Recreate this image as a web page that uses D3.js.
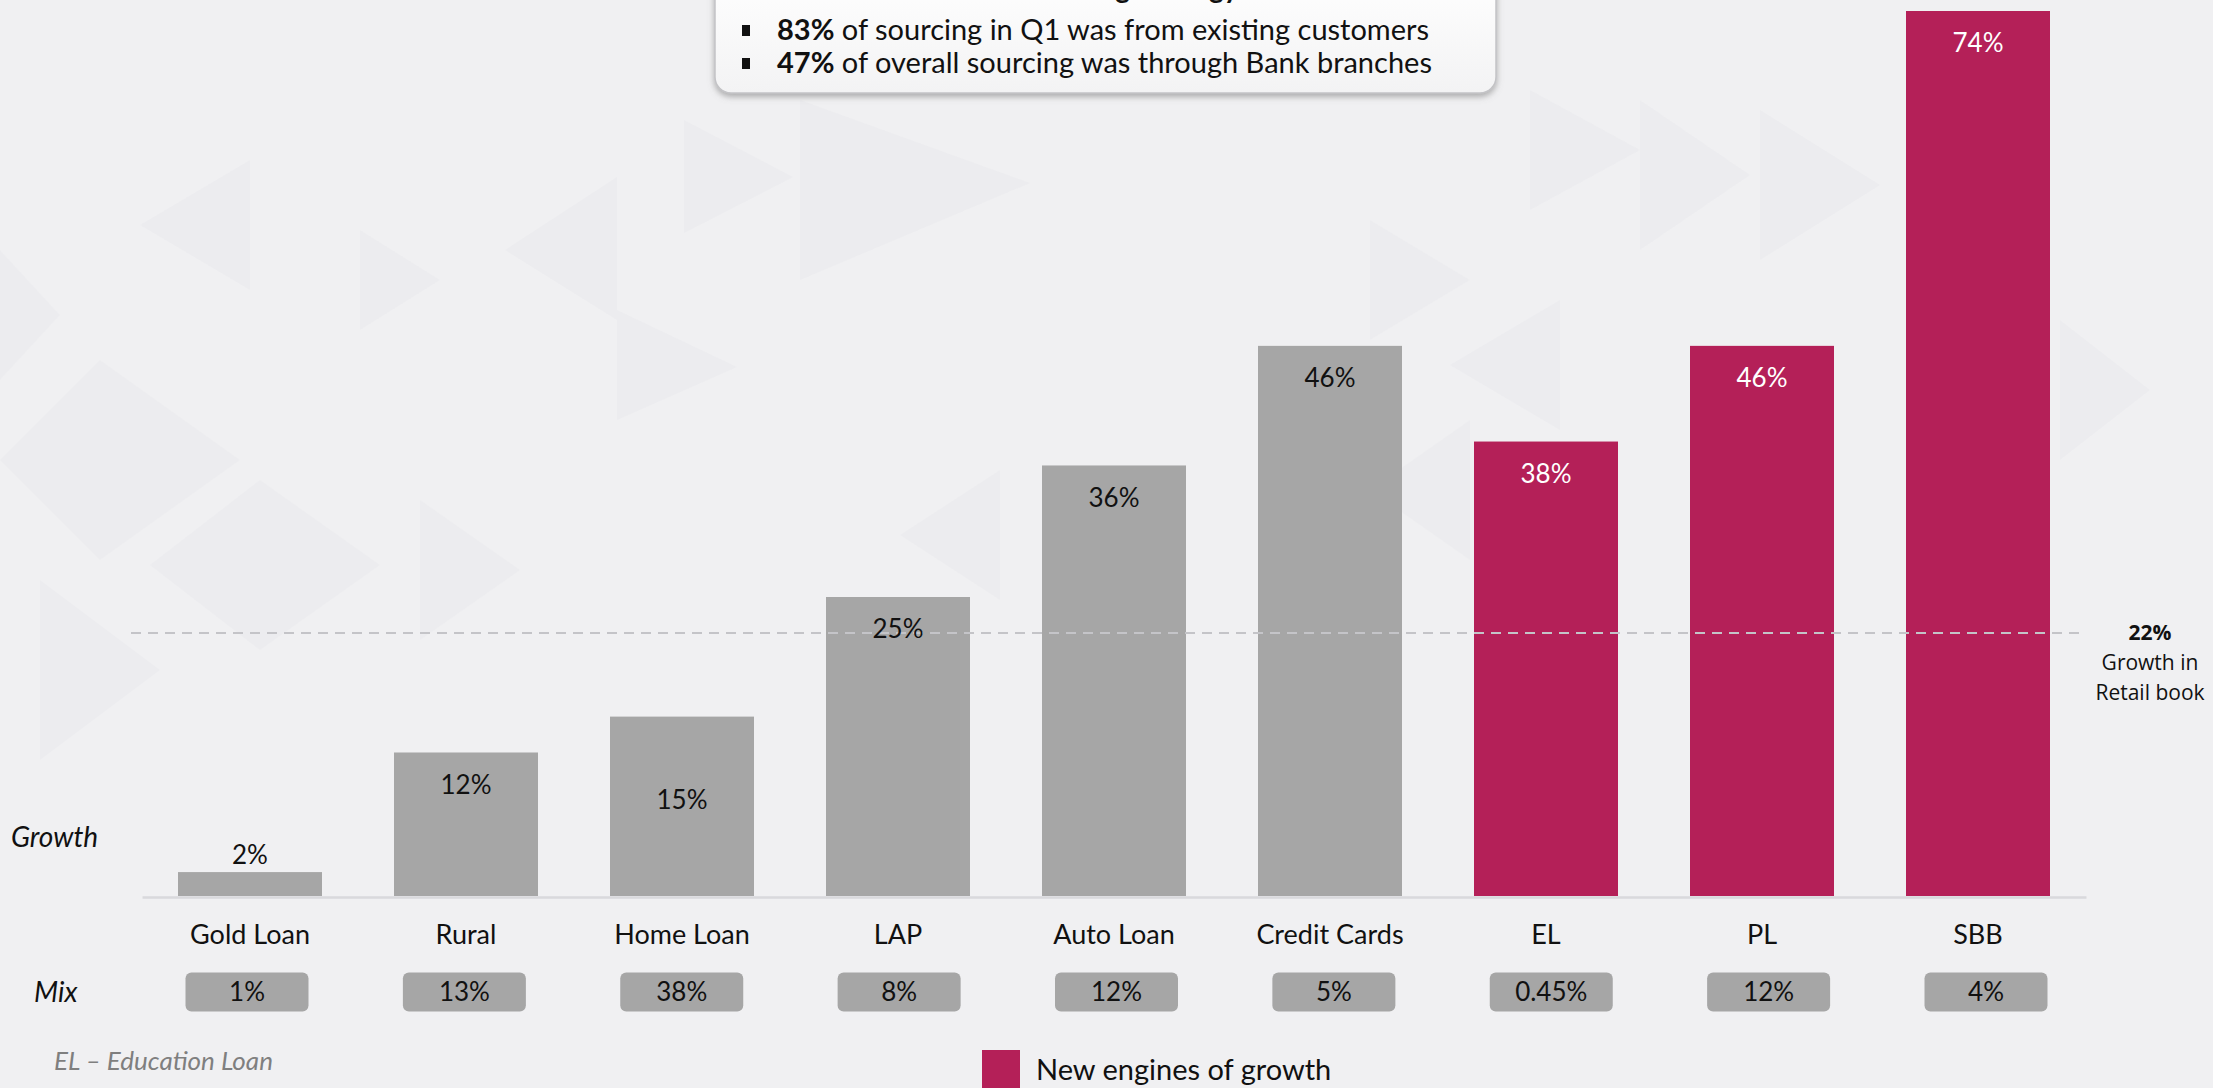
<!DOCTYPE html>
<html>
<head>
<meta charset="utf-8">
<script src="https://cdn.jsdelivr.net/npm/d3@7"></script>
<style>
  html, body { margin: 0; padding: 0; background: #f0f0f2; overflow: hidden; }
  svg { display: block; }
</style>
</head>
<body>
<svg id="chart" width="2213" height="1088"></svg>
<script>
// Retail book: growth by product, with share of book (mix)
const categories   = ["Gold Loan", "Rural", "Home Loan", "LAP", "Auto Loan", "Credit Cards", "EL", "PL", "SBB"];
const growth       = [2, 12, 15, 25, 36, 46, 38, 46, 74];
const growthLabels = ["2%", "12%", "15%", "25%", "36%", "46%", "38%", "46%", "74%"];
const mixLabels    = ["1%", "13%", "38%", "8%", "12%", "5%", "0.45%", "12%", "4%"];
const newEngines   = ["EL", "PL", "SBB"];
const retailGrowth = 22;
const retailLabel  = ["22%", "Growth in", "Retail book"];
const boxTitle     = "Cross-selling strategy";
const boxBold      = ["83%", "47%"];
const boxRest      = [" of sourcing in Q1 was from existing customers",
                      " of overall sourcing was through Bank branches"];
const legendLabel  = "New engines of growth";
const footnote     = "EL \u2013 Education Loan";

const W = 2213, H = 1088;
const GREY = "#a6a6a6", MAGENTA = "#b42058", BG = "#f0f0f2";
const FONT = "Lato, 'Open Sans', sans-serif";

const svg = d3.select("#chart");
const defs = svg.append("defs");

// background
svg.append("rect").attr("width", W).attr("height", H).attr("fill", BG);

// faint triangle pattern behind the chart
const deco = [
  [[684,120],[684,233],[793,177]], [[800,100],[800,280],[1030,183]],
  [[505,250],[617,177],[617,320]], [[617,310],[617,420],[737,367]],
  [[360,230],[360,330],[440,280]], [[250,160],[250,290],[140,225]],
  [[100,360],[100,560],[0,460]],   [[100,360],[100,560],[240,460]],
  [[260,480],[260,650],[380,565]], [[260,480],[260,650],[150,565]],
  [[40,580],[40,760],[160,670]],   [[0,250],[0,380],[60,315]],
  [[420,500],[420,640],[520,570]], [[1370,220],[1370,340],[1470,280]],
  [[1530,90],[1530,210],[1640,150]], [[1640,100],[1640,250],[1750,175]],
  [[1560,300],[1560,430],[1450,365]], [[1700,360],[1700,520],[1820,440]],
  [[1760,110],[1760,260],[1880,185]], [[1470,420],[1470,560],[1370,490]],
  [[2060,320],[2060,460],[2150,390]], [[1000,470],[1000,600],[900,535]]
];
svg.append("g").selectAll("polygon").data(deco).join("polygon")
  .attr("points", d => d.map(p => p.join(",")).join(" "))
  .attr("fill", "#d6d6da").attr("opacity", 0.12);

// scales
const x = d3.scaleBand().domain(categories).range([142, 2086])
  .paddingInner(1 / 3).paddingOuter(1 / 6);
const xMix = d3.scalePoint().domain(categories).range([247, 1986]);
const y = d3.scaleLinear().domain([0, 74]).range([896, 11]);

const data = categories.map((c, i) => ({
  category: c, value: growth[i], label: growthLabels[i], mix: mixLabels[i],
  isNew: newEngines.includes(c)
}));

// bars
svg.append("g").selectAll("rect").data(data).join("rect")
  .attr("x", d => x(d.category))
  .attr("y", d => y(d.value))
  .attr("width", x.bandwidth())
  .attr("height", d => y(0) - y(d.value))
  .attr("fill", d => d.isNew ? MAGENTA : GREY);

// baseline + category labels
const axis = svg.append("g").attr("transform", "translate(0,897)")
  .call(d3.axisBottom(x).tickSize(0).tickSizeOuter(0));
axis.select(".domain").attr("stroke", "#d9d9dc").attr("stroke-width", 2.5);
axis.selectAll(".tick text")
  .attr("y", 38).attr("dy", "0.35em")
  .attr("font-family", FONT).attr("font-size", 27).attr("fill", "#111");

// retail book growth reference line
const yRef = y(retailGrowth);
svg.append("line")
  .attr("x1", 131).attr("x2", 2082).attr("y1", yRef).attr("y2", yRef)
  .attr("stroke", "#c4c4c8").attr("stroke-width", 2).attr("stroke-dasharray", "10,7");

// growth value labels
const labelDrop = d => d.value < 5 ? -17 : (d.category === "Home Loan" ? 83 : 32);
svg.append("g").selectAll("text").data(data).join("text")
  .attr("x", d => x(d.category) + x.bandwidth() / 2)
  .attr("y", d => y(d.value) + labelDrop(d))
  .attr("dy", "0.35em").attr("text-anchor", "middle")
  .attr("font-family", FONT).attr("font-size", 26)
  .attr("fill", d => d.isNew ? "#ffffff" : "#111")
  .text(d => d.label);

// mix pills
const pill = svg.append("g").selectAll("g").data(data).join("g")
  .attr("transform", d => `translate(${xMix(d.category)},992)`);
pill.append("rect").attr("x", -61.5).attr("y", -19.5).attr("width", 123).attr("height", 39)
  .attr("rx", 6).attr("fill", GREY);
pill.append("text").attr("text-anchor", "middle").attr("dy", "0.35em")
  .attr("font-family", FONT).attr("font-size", 26).attr("fill", "#111")
  .text(d => d.mix);

// row captions
svg.append("text").attr("x", 11).attr("y", 837).attr("dy", "0.35em")
  .attr("font-family", FONT).attr("font-size", 28).attr("font-style", "italic").attr("fill", "#111")
  .text("Growth");
svg.append("text").attr("x", 34).attr("y", 992).attr("dy", "0.35em")
  .attr("font-family", FONT).attr("font-size", 28).attr("font-style", "italic").attr("fill", "#111")
  .text("Mix");
svg.append("text").attr("x", 54).attr("y", 1061).attr("dy", "0.35em")
  .attr("font-family", FONT).attr("font-size", 26).attr("font-style", "italic").attr("fill", "#7f7f7f")
  .text(footnote);

// right-hand reference label
const refLbl = svg.append("text").attr("text-anchor", "middle")
  .attr("font-family", "'Open Sans', sans-serif").attr("font-size", 21).attr("fill", "#111");
retailLabel.forEach((t, i) => {
  refLbl.append("tspan").attr("x", 2150).attr("y", yRef + i * 30).attr("dy", "0.35em")
    .attr("font-weight", i === 0 ? "bold" : "normal").text(t);
});

// legend
svg.append("rect").attr("x", 982).attr("y", 1050).attr("width", 38).attr("height", 40).attr("fill", MAGENTA);
svg.append("text").attr("x", 1036).attr("y", 1070).attr("dy", "0.35em")
  .attr("font-family", FONT).attr("font-size", 29).attr("fill", "#111").text(legendLabel);

// callout box at the top
const shadow = defs.append("filter").attr("id", "boxShadow")
  .attr("x", "-5%").attr("y", "-20%").attr("width", "110%").attr("height", "150%");
shadow.append("feDropShadow").attr("dx", 0).attr("dy", 3).attr("stdDeviation", 3)
  .attr("flood-color", "#7a7a7a").attr("flood-opacity", 0.6);
const grad = defs.append("linearGradient").attr("id", "boxFill")
  .attr("x1", 0).attr("y1", 0).attr("x2", 0).attr("y2", 1);
grad.append("stop").attr("offset", "0%").attr("stop-color", "#ffffff");
grad.append("stop").attr("offset", "100%").attr("stop-color", "#f3f3f4");

const box = svg.append("g");
box.append("rect").attr("x", 715).attr("y", -30).attr("width", 781).attr("height", 123)
  .attr("rx", 16).attr("fill", "url(#boxFill)").attr("stroke", "#c3c3c6").attr("stroke-width", 1.5)
  .attr("filter", "url(#boxShadow)");
box.append("text").attr("x", 1105).attr("y", -2).attr("text-anchor", "middle")
  .attr("font-family", FONT).attr("font-size", 28).attr("font-weight", "bold").attr("fill", "#111")
  .text(boxTitle);
boxBold.forEach((b, i) => {
  const ly = 30 + i * 33;
  box.append("rect").attr("x", 742).attr("y", ly - 5).attr("width", 8).attr("height", 11).attr("fill", "#111");
  const t = box.append("text").attr("x", 777).attr("y", ly).attr("dy", "0.35em")
    .attr("font-family", FONT).attr("font-size", 29).attr("fill", "#111");
  t.append("tspan").attr("font-weight", "bold").text(b);
  t.append("tspan").text(boxRest[i]);
});
</script>
</body>
</html>
